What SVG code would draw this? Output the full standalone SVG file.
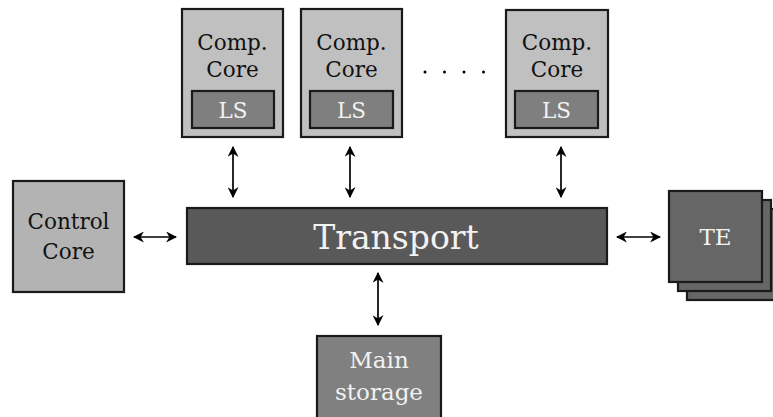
<svg xmlns="http://www.w3.org/2000/svg" width="773" height="417" viewBox="0 0 773 417">
<defs>
<marker id="ah" viewBox="0 0 10 10" refX="9" refY="5" markerWidth="11" markerHeight="11" markerUnits="userSpaceOnUse" orient="auto-start-reverse">
<path d="M0,0 L10,5 L0,10 L3,5 z" fill="#000"/>
</marker>
<style>
.box{stroke:#1a1a1a;stroke-width:2.2}
.light{fill:#c0c0c0}
.ls{fill:#7f7f7f}
.t{font-family:"DejaVu Serif","Liberation Serif",serif;text-anchor:middle}
.dk{fill:#111}
.wt{fill:#f2f2f2}
.conn line{stroke:#000;stroke-width:1.7;fill:none}
</style>
</defs>
<rect width="773" height="417" fill="#fff"/>
<g id="comp1">
<rect class="box light" x="182" y="9" width="101" height="128"/>
<text class="t dk" x="232.5" y="50" font-size="21.5">Comp.</text>
<text class="t dk" x="232.5" y="77" font-size="21.5">Core</text>
<rect class="box ls" x="192" y="91" width="82" height="37"/>
<text class="t wt" x="233" y="118" font-size="21.5">LS</text>
</g>
<g id="comp2">
<rect class="box light" x="301" y="9" width="101" height="128"/>
<text class="t dk" x="351.5" y="50" font-size="21.5">Comp.</text>
<text class="t dk" x="351.5" y="77" font-size="21.5">Core</text>
<rect class="box ls" x="310" y="91" width="83" height="37"/>
<text class="t wt" x="351.5" y="118" font-size="21.5">LS</text>
</g>
<g id="dots">
<circle cx="425" cy="72" r="1.5" fill="#000"/>
<circle cx="444.5" cy="72" r="1.5" fill="#000"/>
<circle cx="464" cy="72" r="1.5" fill="#000"/>
<circle cx="483.5" cy="72" r="1.5" fill="#000"/>
</g>
<g id="comp3">
<rect class="box light" x="506" y="10" width="102" height="127"/>
<text class="t dk" x="557" y="50" font-size="21.5">Comp.</text>
<text class="t dk" x="557" y="77" font-size="21.5">Core</text>
<rect class="box ls" x="515" y="91" width="83" height="37"/>
<text class="t wt" x="556.5" y="118" font-size="21.5">LS</text>
</g>
<g id="transport">
<rect class="box" fill="#595959" x="187" y="208" width="420" height="56"/>
<text class="t wt" x="396" y="249" font-size="33">Transport</text>
</g>
<g id="control">
<rect class="box" fill="#b3b3b3" x="13" y="181" width="111" height="111"/>
<text class="t dk" x="68.5" y="229" font-size="21.5">Control</text>
<text class="t dk" x="68.5" y="259" font-size="21.5">Core</text>
</g>
<g id="te">
<rect class="box" fill="#666" x="687" y="209" width="93" height="91"/>
<rect class="box" fill="#666" x="678" y="200" width="93" height="91"/>
<rect class="box" fill="#666" x="669" y="191" width="93" height="91"/>
<text class="t wt" x="715.5" y="245" font-size="23">TE</text>
</g>
<g id="storage">
<rect class="box" fill="#808080" x="317" y="336" width="124" height="90"/>
<text class="t wt" x="379" y="368" font-size="23">Main</text>
<text class="t wt" x="379" y="400" font-size="23">storage</text>
</g>
<g class="conn" id="connectors">
<line x1="233" y1="147" x2="233" y2="197" marker-start="url(#ah)" marker-end="url(#ah)"/>
<line x1="350" y1="147" x2="350" y2="197" marker-start="url(#ah)" marker-end="url(#ah)"/>
<line x1="561" y1="147" x2="561" y2="197" marker-start="url(#ah)" marker-end="url(#ah)"/>
<line x1="134" y1="237" x2="176" y2="237" marker-start="url(#ah)" marker-end="url(#ah)"/>
<line x1="617" y1="237" x2="660" y2="237" marker-start="url(#ah)" marker-end="url(#ah)"/>
<line x1="378" y1="273" x2="378" y2="325" marker-start="url(#ah)" marker-end="url(#ah)"/>
</g>
</svg>
